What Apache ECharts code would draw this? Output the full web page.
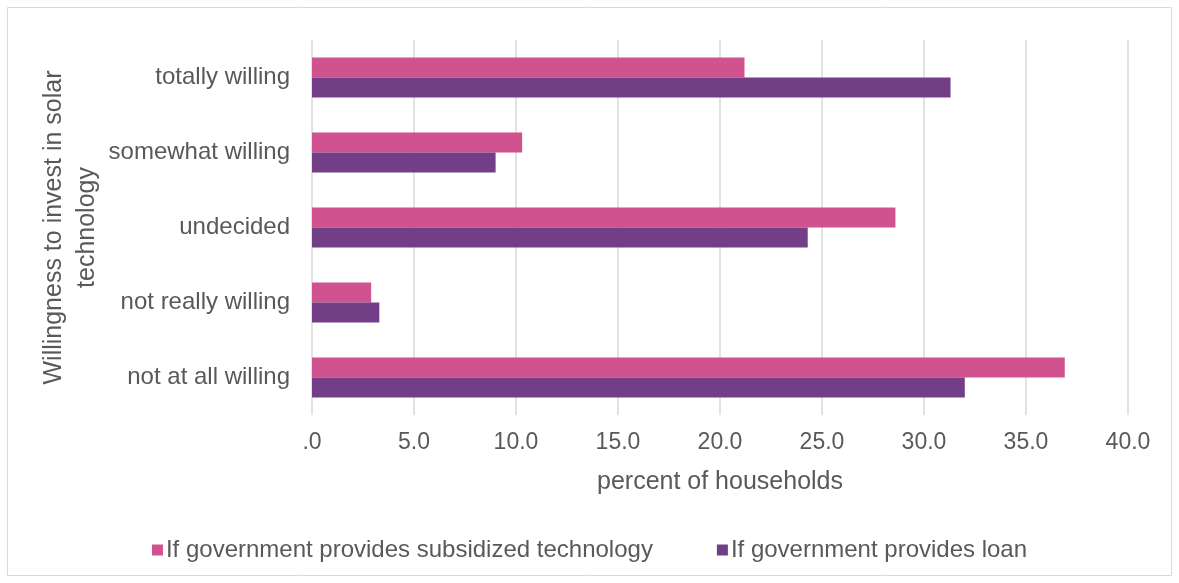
<!DOCTYPE html>
<html>
<head>
<meta charset="utf-8">
<script src="https://cdn.jsdelivr.net/npm/echarts@6/dist/echarts.min.js"></script>
<style>
  html, body { margin: 0; padding: 0; background: #ffffff; }
  #chart { width: 1179px; height: 583px; }
</style>
</head>
<body>
<div id="chart"></div>
<script>
// Willingness categories, top to bottom
const categories = ['totally willing', 'somewhat willing', 'undecided', 'not really willing', 'not at all willing'];
// Percent of households per scenario
const subsidized = [21.2, 10.3, 28.6, 2.9, 36.9];
const loan = [31.3, 9.0, 24.3, 3.3, 32.0];
const seriesNames = ['If government provides subsidized technology', 'If government provides loan'];
const xTicks = { min: 0, max: 40, interval: 5 };

const textColor = '#595959';
const fontFamily = '"Liberation Sans", Arial, sans-serif';

const chart = echarts.init(document.getElementById('chart'));
chart.setOption({
  backgroundColor: '#ffffff',
  textStyle: { fontFamily: fontFamily, color: textColor },
  graphic: [{
    type: 'rect',
    shape: { x: 7.5, y: 7.5, width: 1164, height: 568 },
    style: { fill: 'none', stroke: '#d9d9d9', lineWidth: 1 },
    silent: true
  }],
  grid: { left: 312, right: 51, top: 40, bottom: 168 },
  legend: {
    top: 533,
    left: 'center',
    itemWidth: 11,
    itemHeight: 11,
    itemGap: 64,
    icon: 'rect',
    textStyle: { fontSize: 24, color: textColor, fontFamily: fontFamily, padding: [0, 0, 0, -2] },
    data: seriesNames
  },
  xAxis: {
    type: 'value',
    min: xTicks.min,
    max: xTicks.max,
    interval: xTicks.interval,
    name: 'percent of households',
    nameLocation: 'middle',
    nameGap: 55,
    nameMoveOverlap: false,
    nameTextStyle: { fontSize: 25, color: textColor, fontFamily: fontFamily },
    axisLine: { show: false },
    axisTick: { show: false },
    axisLabel: {
      fontSize: 23,
      color: textColor,
      margin: 16,
      formatter: v => v === 0 ? '.0' : v.toFixed(1)
    },
    splitLine: { show: true, lineStyle: { color: '#d9d9d9', width: 1.5 } }
  },
  yAxis: {
    type: 'category',
    data: categories,
    inverse: true,
    name: 'Willingness to invest in solar\ntechnology',
    nameLocation: 'middle',
    nameRotate: 90,
    nameGap: 208,
    nameMoveOverlap: false,
    nameTextStyle: { fontSize: 25, color: textColor, fontFamily: fontFamily, lineHeight: 33 },
    axisLine: { show: false },
    axisTick: { show: false },
    axisLabel: { fontSize: 24, color: textColor, margin: 22 }
  },
  series: [
    {
      name: seriesNames[0],
      type: 'bar',
      data: subsidized,
      barWidth: 20,
      barGap: '0%',
      itemStyle: { color: '#D0528F' }
    },
    {
      name: seriesNames[1],
      type: 'bar',
      data: loan,
      barWidth: 20,
      barGap: '0%',
      itemStyle: { color: '#723F87' }
    }
  ]
});
</script>
</body>
</html>
